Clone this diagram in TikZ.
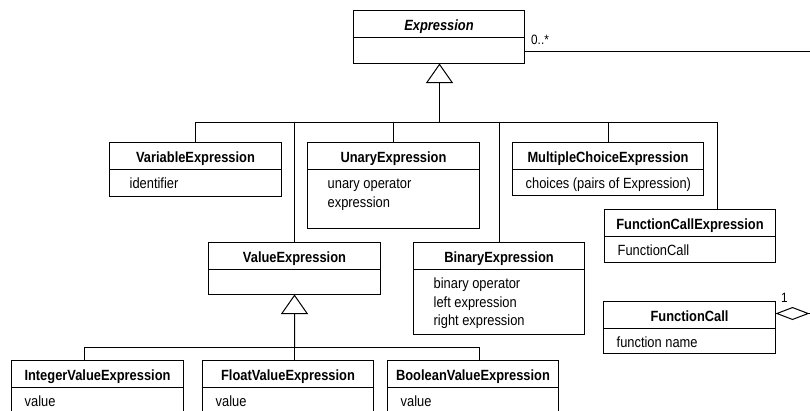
\documentclass[tikz,border=0pt]{standalone}
\usepackage{fontspec}
\setmainfont[FakeStretch=0.87]{Liberation Sans}
\usetikzlibrary{arrows.meta}
\tikzset{
  ln/.style={line width=1bp, draw=black},
  cls/.style={ln, rectangle, inner sep=0pt, outer sep=0pt},
  ttl/.style={font=\fontsize{14.8bp}{17bp}\selectfont\bfseries, inner sep=0pt},
  attr/.style={font=\fontsize{14.8bp}{17bp}\selectfont, inner sep=0pt},
  lbl/.style={font=\fontsize{13.5bp}{15bp}\selectfont, inner sep=0pt},
  gen/.style={ln, -{Triangle[open, length=19.5bp, width=27bp]}},
  agg/.style={ln, {Diamond[open, length=34bp, width=13bp]}-},
}
% name, x, y, w, h, indent, title, attributes
\newcommand{\umlclass}[8]{%
  \node[cls, minimum width=#4bp, minimum height=#5bp, anchor=north west] (#1) at (#2,#3) {};
  \node[ttl, anchor=base] (#1-t) at ([yshift=-19.5bp]#1.north) {#7};
  \draw[ln] ([yshift=-26.5bp]#1.north west) -- ([yshift=-26.5bp]#1.north east);
  \foreach \attrtext [count=\attrnum] in {#8} {
    \node[attr, anchor=base west] (#1-a\attrnum) at ([xshift=#6bp, yshift={-46bp-(\attrnum-1)*18.5bp}]#1.north west) {\attrtext};
  }%
}
\begin{document}
\begin{tikzpicture}[x=1bp,y=-1bp]
\path[use as bounding box] (0,0) rectangle (810,410);
\clip (0,0) rectangle (810,410);

\umlclass{expr}{353.5}{10.5}{171}{53}{20}{\itshape Expression}{}
\umlclass{var}{109.5}{142.5}{172}{54}{20}{VariableExpression}{identifier}
\umlclass{un}{307.5}{142.5}{172}{86}{20}{UnaryExpression}{unary operator,expression}
\umlclass{mc}{512.5}{142.5}{191}{53}{13}{MultipleChoiceExpression}{choices (pairs of Expression)}
\umlclass{fce}{604.5}{209.5}{171}{53}{13}{FunctionCallExpression}{FunctionCall}
\umlclass{val}{208.5}{242.5}{172}{52}{13}{ValueExpression}{}
\umlclass{bin}{413.5}{242.5}{171}{92}{20}{BinaryExpression}{binary operator,left expression,right expression}
\umlclass{fc}{603.5}{301.5}{172}{52}{13}{FunctionCall}{function name}
\umlclass{int}{11.5}{360.5}{172}{60}{13}{IntegerValueExpression}{value}
\umlclass{flt}{202.5}{360.5}{171}{60}{13}{FloatValueExpression}{value}
\umlclass{bool}{387.5}{360.5}{171}{60}{13}{BooleanValueExpression}{value}

% generalization to Expression
\coordinate (g1) at (439.5,122.5);
\coordinate (busR) at (717.5,122.5);
\draw[gen] (g1) -- (expr.south -| g1);
\draw[ln] (var.north) |- (busR) -- (busR |- fce.north);
\draw[ln] (val.north) -- (val.north |- busR);
\draw[ln] (un.north) -- (un.north |- busR);
\draw[ln] (bin.north) -- (bin.north |- busR);
\draw[ln] (mc.north) -- (mc.north |- busR);

% generalization to ValueExpression
\coordinate (g2) at (294.5,347.5);
\coordinate (busL2) at (84.5,347.5);
\coordinate (busR2) at (479.5,347.5);
\draw[gen] (g2) -- (val.south);
\draw[ln] (int.north -| busL2) -- (busL2) -- (busR2) -- (bool.north -| busR2);
\draw[ln] (flt.north -| g2) -- (g2);

% associations leaving the picture
\coordinate (aend) at (815,51.5);
\draw[ln] (expr.east |- aend) -- (aend);
\node[lbl, anchor=base west] (m1) at (531,44) {0..*};
\coordinate (dend) at (815,313.5);
\draw[agg] (fc.east |- dend) -- (dend);
\node[lbl, anchor=base west] (m2) at (781,302) {1};
\end{tikzpicture}
\end{document}
